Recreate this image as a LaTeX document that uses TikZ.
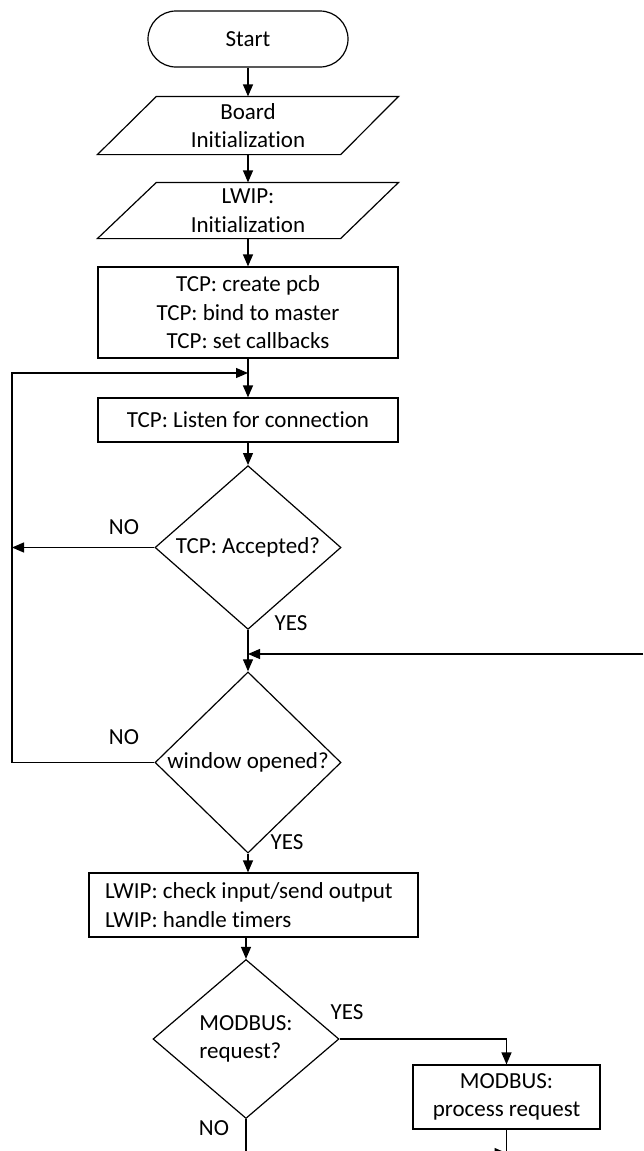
\documentclass[tikz,border=0pt]{standalone}
\usepackage{fontspec}
\setmainfont{Carlito}[Ligatures=NoCommon]
\usetikzlibrary{shapes.geometric,arrows.meta,calc}
\frenchspacing

\begin{document}
\begin{tikzpicture}[x=1pt,y=-1pt,
  line width=1.2pt,
  font=\fontsize{23}{28.5}\selectfont,
  flow/.style={-{Triangle[length=12pt,width=10pt]}},
  process/.style={draw, rectangle, inner sep=0pt, align=center},
  decision/.style={draw, diamond, inner sep=0pt, minimum width=186pt,
                   minimum height=159pt, align=center},
  iobox/.style={rectangle, inner sep=0pt, minimum width=300pt, align=center},
  lbl/.style={inner sep=0pt}
]
\useasboundingbox (0,0) rectangle (643,1151);
\clip (0,0) rectangle (643,1151);

% --- nodes ---
\node[draw, rounded corners=28pt, minimum width=200pt, minimum height=56pt,
      inner sep=0pt] (start) at (248,39) {Start};

\node[iobox, minimum height=57pt] (board) at (248,125.5) {Board\\Initialization};
\draw ($(board.north west)+(59,0)$) -- (board.north east)
      -- ($(board.south east)-(58,0)$) -- (board.south west) -- cycle;

\node[iobox, minimum height=55pt] (lwip) at (248,210.5) {LWIP:\\Initialization};
\draw ($(lwip.north west)+(59,0)$) -- (lwip.north east)
      -- ($(lwip.south east)-(58,0)$) -- (lwip.south west) -- cycle;

\node[process, minimum width=300pt, minimum height=91pt] (tcp) at (248,312.5)
  {TCP: create pcb\\TCP: bind to master\\TCP: set callbacks};

\node[process, minimum width=300pt, minimum height=44pt] (listen) at (248,420)
  {TCP: Listen for connection};

\node[decision] (acc) at (248,547.5) {TCP: Accepted?};
\node[decision] (win) at (248,762.5) {window opened?};

\node[process, minimum width=329pt, minimum height=64pt] (lwipio) at (253.5,905) {};
\node[inner sep=0pt, align=left, anchor=west] (lwiptext)
  at ($(lwipio.west)+(16,0)$)
  {LWIP: check input/send output\\LWIP: handle timers};

\node[decision, align=left] (req) at (246,1039) {MODBUS:\\request?};

\node[process, minimum width=187pt, minimum height=64pt] (proc) at (506.5,1097)
  {MODBUS:\\process request};

% --- labels ---
\node[lbl] (accno)  at (124,527)  {NO};
\node[lbl] (accyes) at (291,623)  {YES};
\node[lbl] (winno)  at (124,737)  {NO};
\node[lbl] (winyes) at (287,842)  {YES};
\node[lbl] (reqyes) at (347,1012) {YES};
\node[lbl] (reqno)  at (214,1128) {NO};

% --- connector points ---
\coordinate (loopin)   at (248,373);
\coordinate (railtop)  at (12,373);
\coordinate (accleft)  at (12,547.5);
\coordinate (merge)    at (248,654);
\coordinate (rightin)  at (643,654);
\coordinate (nobottom) at (246,1153);
\coordinate (procjoin) at (506.5,1153);
\coordinate (procend)  at (506.5,1170);

% --- connectors ---
\draw[flow] (start) -- (board);
\draw[flow] (board) -- (lwip);
\draw[flow] (lwip) -- (tcp);
\draw[flow] (tcp) -- (listen);
\draw[flow] (listen) -- (acc);
\draw[flow] (acc.west) -- (accleft);
\draw (acc.south) -- (merge);
\draw[flow] (rightin) -- (merge);
\draw[flow] (merge) -- (win.north);
\draw[flow] (win.west) -| (railtop) -- (loopin);
\draw[flow] (win.south) -- (win.south |- lwipio.north);
\draw[flow] (req.north |- lwipio.south) -- (req.north);
\draw[flow] (req.east) -| (proc.north);
\draw (proc.south) -- (procend);
\draw[flow] (req.south) -- (nobottom) -- (procjoin);
\end{tikzpicture}
\end{document}
